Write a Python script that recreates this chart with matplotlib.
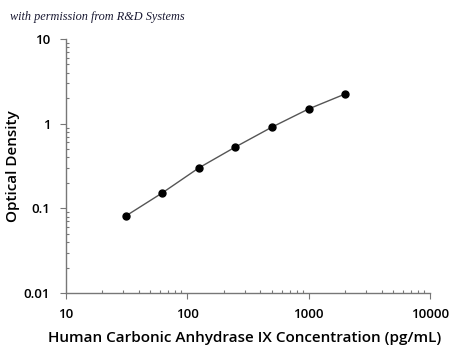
import numpy as np
import matplotlib
matplotlib.use("Agg")
import matplotlib.pyplot as plt
from matplotlib.ticker import LogLocator, FixedLocator, FixedFormatter, NullFormatter

# standard curve values
conc = [31.25, 62.5, 125, 250, 500, 1000, 2000]
od = [0.081, 0.152, 0.30, 0.53, 0.91, 1.49, 2.24]

x_ticks = [10, 100, 1000, 10000]
x_labels = ["10", "100", "1000", "10000"]
y_ticks = [0.01, 0.1, 1, 10]
y_labels = ["0.01", "0.1", "1", "10"]

fig = plt.figure(figsize=(4.5, 3.48), dpi=100)
ax = fig.add_axes([0.1456, 0.158, 0.81, 0.73])

ax.plot(conc, od, color="#555555", lw=1.0, zorder=2)
ax.plot(conc, od, "o", color="black", ms=5, zorder=3)

ax.set_xscale("log")
ax.set_yscale("log")
ax.set_xlim(10, 10000)
ax.set_ylim(0.01, 10)

ax.xaxis.set_major_locator(FixedLocator(x_ticks))
ax.xaxis.set_major_formatter(FixedFormatter(x_labels))
ax.yaxis.set_major_locator(FixedLocator(y_ticks))
ax.yaxis.set_major_formatter(FixedFormatter(y_labels))
ax.xaxis.set_minor_locator(LogLocator(base=10, subs=np.arange(2, 10)))
ax.yaxis.set_minor_locator(LogLocator(base=10, subs=np.arange(2, 10)))
ax.xaxis.set_minor_formatter(NullFormatter())
ax.yaxis.set_minor_formatter(NullFormatter())

for s in ["top", "right"]:
    ax.spines[s].set_visible(False)
for s in ["left", "bottom"]:
    ax.spines[s].set_color("#777777")
    ax.spines[s].set_linewidth(1.0)

ax.tick_params(which="major", direction="out", length=4, width=0.8, color="#777777",
               labelsize=9.5, pad=7)
ax.tick_params(which="minor", direction="in", length=2.5, width=0.8, color="#777777")
for lab in ax.get_xticklabels() + ax.get_yticklabels():
    lab.set_fontfamily("Open Sans")
    lab.set_fontweight("semibold")

ax.set_xlabel("Human Carbonic Anhydrase IX Concentration (pg/mL)",
              fontfamily="Open Sans", fontweight="semibold", fontsize=11.0)
ax.set_ylabel("Optical Density", fontfamily="Open Sans", fontweight="semibold",
              fontsize=11.0)
ax.xaxis.set_label_coords(0.49, -0.15)
ax.yaxis.set_label_coords(-0.125, 0.5)

fig.text(0.022, 0.952, "with permission from R&D Systems", fontfamily="Liberation Serif",
         style="italic", fontsize=8.8, color="#1a1a33", va="center")

fig.savefig("out.png", dpi=100)
